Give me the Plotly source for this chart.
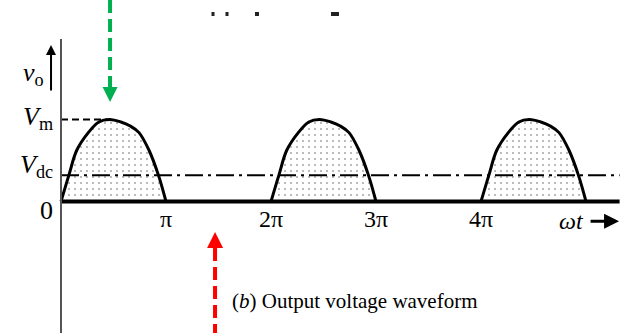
import plotly.graph_objects as go

# ---- data (x in units of pi, y in units of Vm) ----
hump_starts = [0, 2, 4]
hump_phase = [0, 0.076, 0.15, 0.26, 0.36, 0.46, 0.57, 0.66, 0.743, 0.838, 0.927, 1.0]
hump_level = [0, 0.325, 0.625, 0.84, 0.97, 1.0, 0.97, 0.92, 0.84, 0.625, 0.325, 0]
Vm = 1.0
Vdc = 0.32
x_end = 5.32
x_ticks = [1, 2, 3, 4]
x_ticktext = ["π", "2π", "3π", "4π"]
y_ticks = [0, Vdc, Vm]
y_ticktext = ["0", "<i>V</i><sub>dc</sub>", "<i>V</i><sub>m</sub>"]
caption = "(<i>b</i>) Output voltage waveform"

W, H = 628, 333
SERIF = "Liberation Serif, Times New Roman, Times, serif"

fig = go.Figure()

for s in hump_starts:
    fig.add_trace(go.Scatter(
        x=[s + p for p in hump_phase], y=hump_level, mode="lines",
        line=dict(color="black", width=3, shape="spline", smoothing=1.0),
        fill="toself", fillcolor="rgba(0,0,0,0)",
        fillpattern=dict(shape=".", size=6, solidity=0.1, fgcolor="#555", bgcolor="white"),
        hoverinfo="skip", showlegend=False))

# baseline
fig.add_trace(go.Scatter(x=[0, x_end], y=[0, 0], mode="lines",
                         line=dict(color="black", width=4), showlegend=False, hoverinfo="skip"))
# Vdc dash-dot
fig.add_trace(go.Scatter(x=[0, x_end], y=[Vdc, Vdc], mode="lines",
                         line=dict(color="black", width=2, dash="18px,5px,3px,5px"),
                         showlegend=False, hoverinfo="skip"))
# Vm dashed
fig.add_trace(go.Scatter(x=[0, 0.45], y=[Vm, Vm], mode="lines",
                         line=dict(color="black", width=2, dash="7px,4px"),
                         showlegend=False, hoverinfo="skip"))

def pyp(py):
    return 1 - py / H

shapes = []
# y-axis line
shapes.append(dict(type="line", xref="x", yref="paper", x0=0, x1=0, y0=0, y1=pyp(39),
                   line=dict(color="#555", width=2)))
# green dashed arrow
gx = 0.467
shapes.append(dict(type="line", xref="x", yref="paper", x0=gx, x1=gx, y0=pyp(0), y1=pyp(88),
                   line=dict(color="#00B050", width=4, dash="13px,6px")))
hw = 7.5 / 105
shapes.append(dict(type="path", xref="x", yref="paper",
                   path=f"M {gx-hw} {pyp(87)} L {gx+hw} {pyp(87)} L {gx} {pyp(102)} Z",
                   fillcolor="#00B050", line=dict(width=0)))
# red dashed arrow
rx = 1.467
shapes.append(dict(type="line", xref="x", yref="paper", x0=rx, x1=rx, y0=pyp(248), y1=0,
                   line=dict(color="#FF0000", width=4, dash="13px,6px")))
hw2 = 8 / 105
shapes.append(dict(type="path", xref="x", yref="paper",
                   path=f"M {rx-hw2} {pyp(248)} L {rx+hw2} {pyp(248)} L {rx} {pyp(232)} Z",
                   fillcolor="#FF0000", line=dict(width=0)))
# cut-off text remnants at top
for (px, w) in [(213, 3), (227, 3), (257, 4), (335, 8)]:
    shapes.append(dict(type="rect", xref="paper", yref="paper",
                       x0=(px - w / 2) / W, x1=(px + w / 2) / W, y0=pyp(16), y1=pyp(12),
                       fillcolor="#222", line=dict(width=0)))

# y-axis value labels (placed at their data values, nudged like the original drawing)
y_label_shift = [-9, 9, 2]
annotations = []
for val, txt, sh in zip(y_ticks, y_ticktext, y_label_shift):
    annotations.append(dict(x=-0.055, y=val, xref="x", yref="y", xanchor="right",
                            yanchor="middle", yshift=sh, showarrow=False, text=txt,
                            font=dict(family=SERIF, size=26, color="black")))

annotations += [
    dict(x=-0.095, y=1.909, xref="x", yref="y", ax=0, ay=47, showarrow=True,
         arrowhead=2, arrowsize=1, arrowwidth=2, arrowcolor="black", text=""),
    dict(x=-0.26, y=1.55, xref="x", yref="y", showarrow=False,
         text="<i>v</i><sub>o</sub>", font=dict(family=SERIF, size=26, color="black")),
    dict(x=5.315, y=-0.24, xref="x", yref="y", ax=-30, ay=0, showarrow=True,
         arrowhead=2, arrowsize=1, arrowwidth=3, arrowcolor="black", text=""),
    dict(x=4.86, y=-0.24, xref="x", yref="y", showarrow=False,
         text="<i>ωt</i>", font=dict(family=SERIF, size=24, color="black")),
    dict(x=355 / W, y=pyp(301), xref="paper", yref="paper", xanchor="center",
         yanchor="middle", showarrow=False,
         text=caption, font=dict(family=SERIF, size=21, color="black")),
]

fig.update_layout(
    width=W, height=H, margin=dict(l=0, r=0, t=0, b=0, autoexpand=False),
    paper_bgcolor="white", plot_bgcolor="white",
    shapes=shapes, annotations=annotations, showlegend=False,
    xaxis=dict(range=[-61 / 105, (W - 61) / 105], anchor="free", position=pyp(201.5),
               automargin=False,
               showgrid=False, zeroline=False, showline=False, ticks="",
               tickvals=x_ticks, ticktext=x_ticktext,
               tickfont=dict(family=SERIF, size=24, color="black")),
    yaxis=dict(range=[-131.5 / 82, 201.5 / 82], anchor="free", position=56 / W,
               automargin=False, showticklabels=False,
               showgrid=False, zeroline=False, showline=False, ticks="",
               tickvals=y_ticks),
)

fig.write_html("out.html", config={"displayModeBar": False},
               post_script="document.body.style.margin='0';document.body.style.padding='0';")
